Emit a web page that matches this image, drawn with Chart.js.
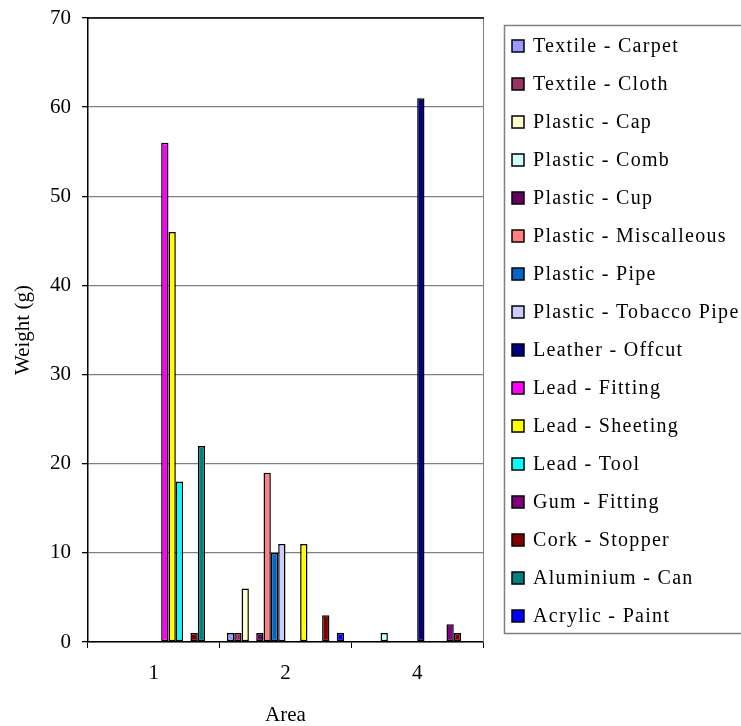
<!DOCTYPE html>
<html>
<head>
<meta charset="utf-8">
<script src="https://cdn.jsdelivr.net/npm/chart.js@4.4.1/dist/chart.umd.min.js"></script>
<style>
  html, body { margin: 0; padding: 0; background: #fff; }
  #wrap { width: 741px; height: 726px; }
</style>
</head>
<body>
<div id="wrap"><canvas id="chart" width="741" height="726"></canvas></div>
<script>
const areas = ["1", "2", "4"];

const seriesNames = [
  "Textile - Carpet", "Textile - Cloth", "Plastic - Cap", "Plastic - Comb",
  "Plastic - Cup", "Plastic - Miscalleous", "Plastic - Pipe", "Plastic - Tobacco Pipe",
  "Leather - Offcut", "Lead - Fitting", "Lead - Sheeting", "Lead - Tool",
  "Gum - Fitting", "Cork - Stopper", "Aluminium - Can", "Acrylic - Paint"
];

const seriesColors = [
  "#9999FF", "#993366", "#FFFFCC", "#CCFFFF",
  "#660066", "#FF8080", "#0066CC", "#CCCCFF",
  "#000080", "#FF00FF", "#FFFF00", "#00FFFF",
  "#800080", "#800000", "#008080", "#0000FF"
];

// weights per area (1, 2, 4); null = nothing found
const textileCarpet = [null, 1, null];
const textileCloth = [null, 1, null];
const plasticCap = [null, 6, null];
const plasticComb = [null, null, 1];
const plasticCup = [null, 1, null];
const plasticMisc = [null, 19, null];
const plasticPipe = [null, 10, null];
const plasticTobacco = [null, 11, null];
const leatherOffcut = [null, null, 61];
const leadFitting = [56, null, null];
const leadSheeting = [46, 11, null];
const leadTool = [18, null, null];
const gumFitting = [null, null, 2];
const corkStopper = [1, 3, 1];
const aluminiumCan = [22, null, null];
const acrylicPaint = [null, 1, null];

const seriesValues = [
  textileCarpet, textileCloth, plasticCap, plasticComb,
  plasticCup, plasticMisc, plasticPipe, plasticTobacco,
  leatherOffcut, leadFitting, leadSheeting, leadTool,
  gumFitting, corkStopper, aluminiumCan, acrylicPaint
];

const yTicks = [0, 10, 20, 30, 40, 50, 60, 70];

const FONT = "'Liberation Serif', 'Times New Roman', serif";

const frameAndLegend = {
  id: "frameAndLegend",
  afterDatasetsDraw(chart) {
    const { ctx, chartArea } = chart;
    ctx.save();
    // right edge of plot area
    ctx.strokeStyle = "#808080";
    ctx.lineWidth = 1;
    ctx.beginPath();
    ctx.moveTo(chartArea.right + 0.5, chartArea.top);
    ctx.lineTo(chartArea.right + 0.5, chartArea.bottom);
    ctx.stroke();
    // top edge
    ctx.strokeStyle = "#000";
    ctx.lineWidth = 1.5;
    ctx.beginPath();
    ctx.moveTo(chartArea.left, chartArea.top);
    ctx.lineTo(chartArea.right + 1, chartArea.top);
    ctx.stroke();
    ctx.restore();
  },
  afterDraw(chart) {
    const { ctx } = chart;
    ctx.save();
    ctx.strokeStyle = "#808080";
    ctx.lineWidth = 1.5;
    ctx.strokeRect(504.5, 25.5, 260, 608);

    ctx.font = "20px " + FONT;
    ctx.letterSpacing = "1.3px";
    ctx.textBaseline = "middle";
    ctx.textAlign = "left";

    chart.data.datasets.forEach((ds, i) => {
      const y = 46 + i * 38;
      ctx.fillStyle = ds.backgroundColor;
      ctx.fillRect(512, y - 6, 12, 12);
      ctx.strokeStyle = "#000";
      ctx.lineWidth = 1.5;
      ctx.strokeRect(512, y - 6, 12, 12);
      ctx.fillStyle = "#000";
      ctx.fillText(ds.label, 533, y + 1);
    });
    ctx.restore();
  },
};

const ctx = document.getElementById("chart").getContext("2d");

new Chart(ctx, {
  type: "bar",
  data: {
    labels: areas,
    datasets: seriesNames.map((name, i) => ({
      label: name,
      data: seriesValues[i],
      backgroundColor: seriesColors[i],
      borderColor: "#000",
      borderWidth: 1.5,
      borderSkipped: false,
      categoryPercentage: 0.89,
      barPercentage: 1.0,
    })),
  },
  options: {
    responsive: false,
    animation: false,
    layout: {
      padding: { left: 0, right: 258, top: 18, bottom: 0 },
    },
    plugins: {
      legend: { display: false },
      tooltip: { enabled: false },
    },
    scales: {
      x: {
        grid: {
          display: true,
          drawOnChartArea: false,
          drawTicks: true,
          tickLength: 6,
          color: "#000",
          offset: true,
        },
        border: { color: "#000", width: 1.5 },
        ticks: {
          color: "#000",
          font: { family: FONT, size: 21 },
          padding: 13,
        },
        title: {
          display: true,
          text: "Area",
          color: "#000",
          font: { family: FONT, size: 21 },
          padding: { top: 0, bottom: -2 },
        },
        afterFit(scale) {
          scale.height = 84;
          scale.paddingLeft = 0;
          scale.paddingRight = 0;
        },
      },
      y: {
        min: 0,
        max: 70,
        afterBuildTicks(scale) {
          scale.ticks = yTicks.map((v) => ({ value: v }));
        },
        grid: {
          color: "#808080",
          lineWidth: 1.3,
          drawTicks: true,
          tickLength: 6,
          tickColor: "#000",
        },
        border: { color: "#000", width: 1.5 },
        ticks: {
          color: "#000",
          font: { family: FONT, size: 21 },
          padding: 11,
        },
        title: {
          display: true,
          text: "Weight (g)",
          color: "#000",
          font: { family: FONT, size: 21 },
          padding: { top: 11, bottom: 0 },
        },
        afterFit(scale) {
          scale.width = 88;
          scale.paddingTop = 0;
          scale.paddingBottom = 0;
        },
      },
    },
  },
  plugins: [frameAndLegend],
});
</script>
</body>
</html>
